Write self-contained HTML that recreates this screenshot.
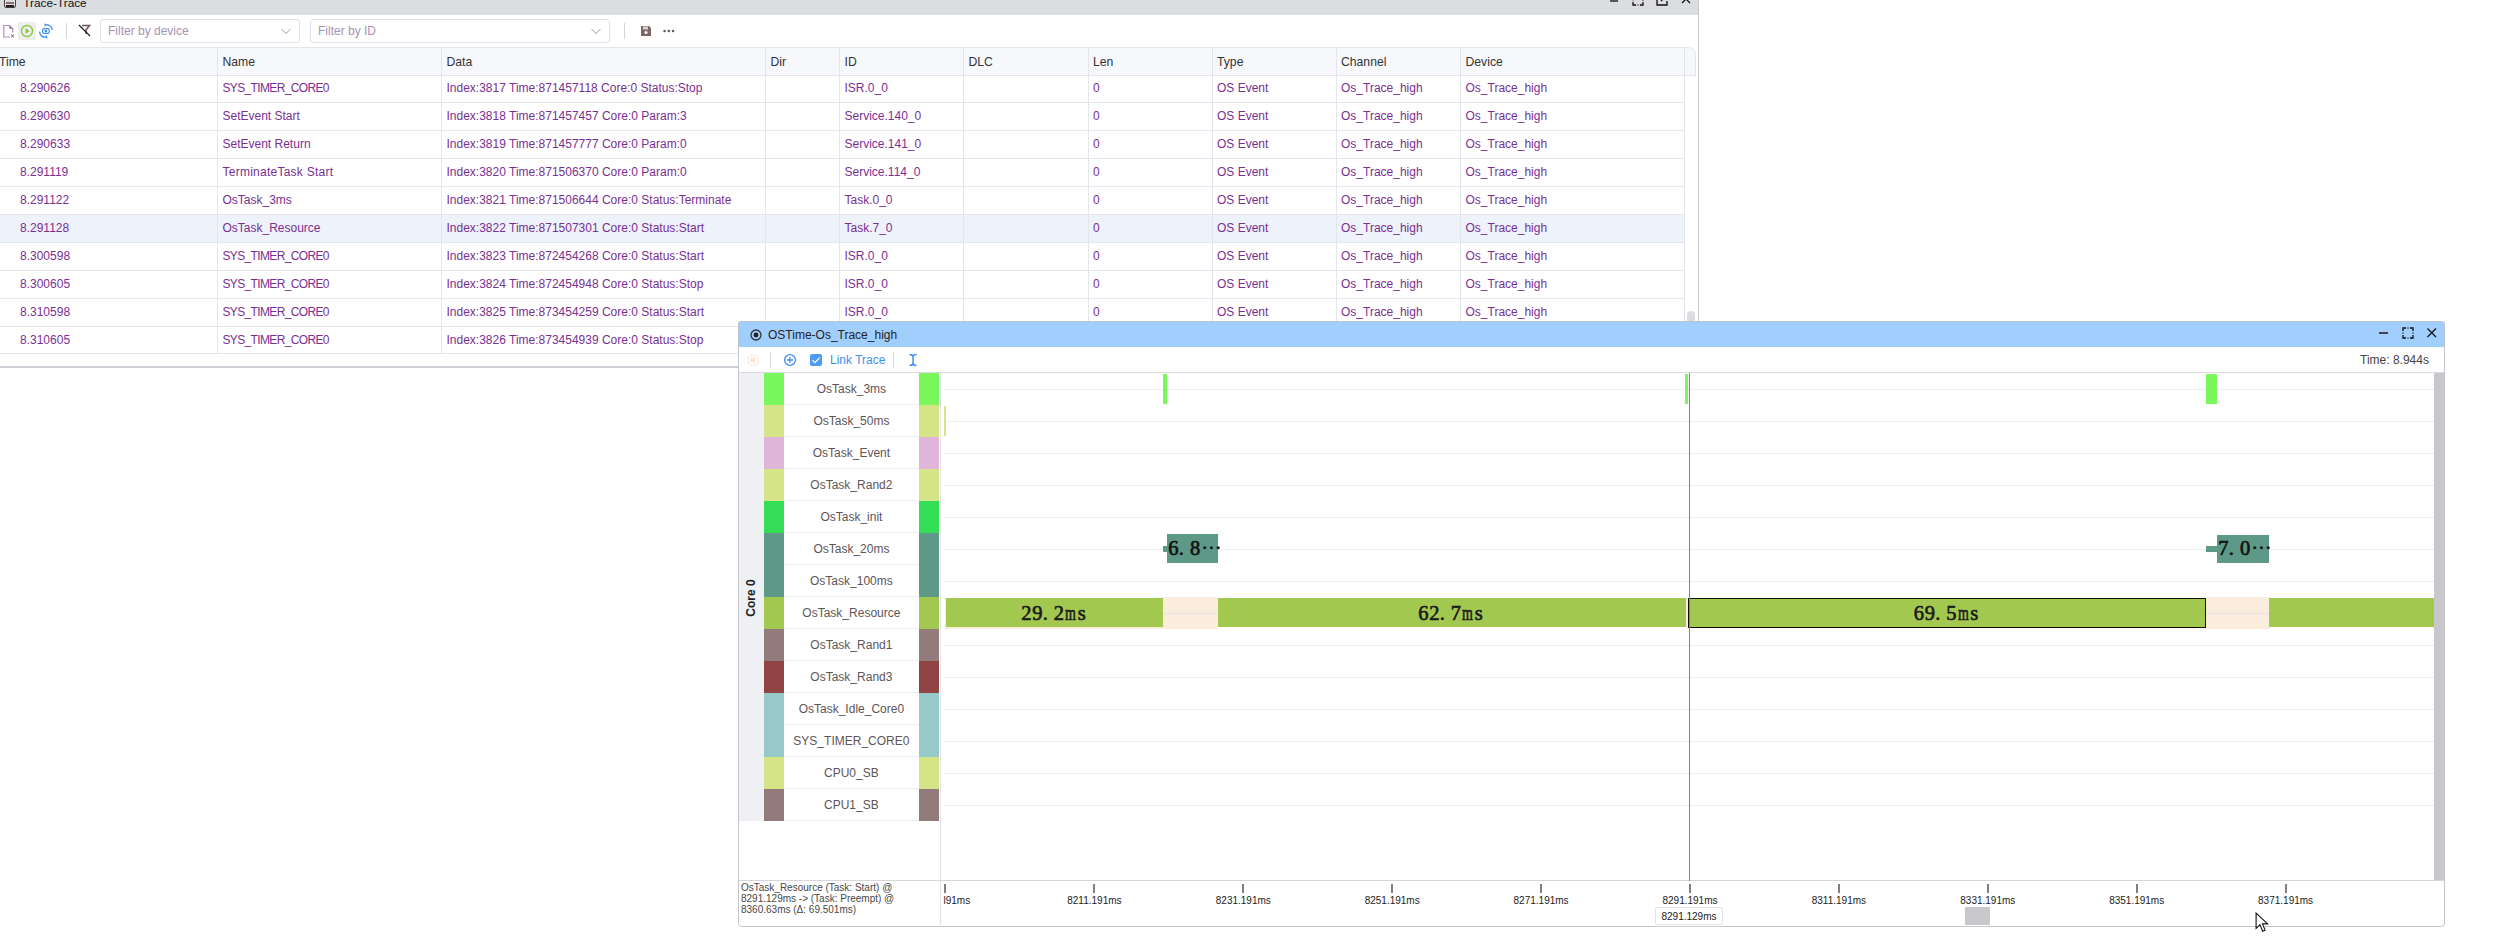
<!DOCTYPE html><html><head><meta charset="utf-8"><style>
*{box-sizing:border-box;margin:0;padding:0}
html,body{width:2502px;height:950px;overflow:hidden;background:#fff}
body{position:relative;font-family:"Liberation Sans",sans-serif;}
.ab{position:absolute}
.t{position:absolute;white-space:nowrap;line-height:1}
</style></head><body>

<div class="ab" style="left:0;top:0;width:1698px;height:14.5px;background:#dcdde1"></div>
<div class="ab" style="left:4px;top:-4px;width:12px;height:11.5px;border:1.6px solid #444;border-radius:2px;background:#dcdde1"></div>
<div class="ab" style="left:6px;top:2px;width:8px;height:1.6px;background:#8a7070"></div>
<div class="ab" style="left:6px;top:5px;width:8px;height:1.6px;background:#222"></div>
<div class="t" style="left:23.3px;top:-2.4px;font-size:11.8px;color:#111">Trace-Trace</div>
<div class="ab" style="left:1610px;top:0;width:8px;height:2px;background:#555"></div>
<svg class="ab" style="left:1631px;top:-7px" width="14" height="14" viewBox="0 0 14 14"><path d="M2 5 V2 H5 M9 2 H12 V5 M12 9 V12 H9 M5 12 H2 V9" fill="none" stroke="#111" stroke-width="1.3"/><path d="M7 12 H7.01 M12 7 V7.01" stroke="#111" stroke-width="1.3" stroke-linecap="round"/><path d="M2 6 V8 M6 2 H8" stroke="#8a7070" stroke-width="1"/></svg>
<svg class="ab" style="left:1655px;top:-7px" width="14" height="14" viewBox="0 0 14 14"><path d="M6 2 H2 V12 H12 V8" fill="none" stroke="#111" stroke-width="1.3"/><path d="M6 8 L11.5 2.5" stroke="#111" stroke-width="1.3"/></svg>
<svg class="ab" style="left:1680px;top:-7px" width="12" height="12" viewBox="0 0 12 12"><path d="M2 2 L10 10 M10 2 L2 10" stroke="#111" stroke-width="1.3"/></svg>
<div class="ab" style="left:1697.5px;top:0;width:1.5px;height:368px;background:#c9c9ce"></div>
<div class="ab" style="left:0;top:366px;width:1699px;height:2px;background:#cfd0d5"></div>
<svg class="ab" style="left:2px;top:24px" width="14" height="15" viewBox="0 0 14 15"><path d="M8 13 H1.8 V1.5 H7.5 L10.8 4.8 V8.5" fill="none" stroke="#b48cc8" stroke-width="1.2"/><path d="M7.5 1.5 L10.8 4.8 H7.5 Z" fill="#8a7070"/><path d="M9.2 10.6 L11.8 13.2 M11.8 10.6 L9.2 13.2" stroke="#6a5050" stroke-width="1"/></svg>
<div class="ab" style="left:18px;top:22px;width:18px;height:18px;background:#eceef2;border-radius:1px"></div>
<svg class="ab" style="left:20px;top:24px" width="14" height="14" viewBox="0 0 14 14"><circle cx="7" cy="7" r="5.5" fill="none" stroke="#8cc83c" stroke-width="1.4"/><path d="M5.5 4.3 L9.6 7 L5.5 9.7 Z" fill="#8cc83c"/></svg>
<svg class="ab" style="left:38px;top:23px" width="16" height="16" viewBox="0 0 16 16"><path d="M8.4 1.6 A6.4 6.4 0 0 1 14.3 7" fill="none" stroke="#3d8ff0" stroke-width="1.3"/><path d="M7.4 14.2 A6.4 6.4 0 0 1 1.5 8.6" fill="none" stroke="#3d8ff0" stroke-width="1.3"/><path d="M6.3 0.3 L9.3 1.7 L6.8 3.6 Z" fill="#3d8ff0"/><path d="M9.5 15.6 L6.5 14.2 L9 12.3 Z" fill="#3d8ff0"/><rect x="4.6" y="5.6" width="6.6" height="4.8" rx="1.6" fill="none" stroke="#3d8ff0" stroke-width="1.2"/><rect x="6.7" y="6.9" width="2.4" height="2.2" fill="#3d8ff0"/></svg>
<div class="ab" style="left:66px;top:23px;width:1px;height:16px;background:#d5d6da"></div>
<svg class="ab" style="left:78px;top:24px" width="14" height="13" viewBox="0 0 14 13"><path d="M4 1.5 H11.5 L8 6 V10" fill="none" stroke="#6e5a5a" stroke-width="1.6"/><path d="M1 1 L12 12" stroke="#222" stroke-width="1.3"/></svg>
<div class="ab" style="left:100px;top:19px;width:200px;height:24px;border:1px solid #dfe1e6;border-radius:3px;background:#fff"></div>
<div class="t" style="left:108px;top:25px;font-size:12px;color:#a592b4">Filter by device</div>
<svg class="ab" style="left:280px;top:26px" width="12" height="10" viewBox="0 0 12 10"><path d="M1.5 3 L6 7.5 L10.5 3" fill="none" stroke="#9a9aa0" stroke-width="1"/></svg>
<div class="ab" style="left:310px;top:19px;width:300px;height:24px;border:1px solid #dfe1e6;border-radius:3px;background:#fff"></div>
<div class="t" style="left:318px;top:25px;font-size:12px;color:#a592b4">Filter by ID</div>
<svg class="ab" style="left:590px;top:26px" width="12" height="10" viewBox="0 0 12 10"><path d="M1.5 3 L6 7.5 L10.5 3" fill="none" stroke="#9a9aa0" stroke-width="1"/></svg>
<div class="ab" style="left:624px;top:23px;width:1px;height:16px;background:#d5d6da"></div>
<svg class="ab" style="left:640px;top:25px" width="12" height="12" viewBox="0 0 12 12"><path d="M1 1 H9 L11 3 V11 H1 Z" fill="#7d6868"/><rect x="3" y="1.5" width="5" height="3" fill="#dcd0d0"/><circle cx="6" cy="7.5" r="1.5" fill="#fff"/></svg>
<svg class="ab" style="left:663px;top:29px" width="12" height="4" viewBox="0 0 12 4"><circle cx="1.6" cy="2" r="1.3" fill="#6a5a5a"/><circle cx="5.8" cy="2" r="1.3" fill="#6a5a5a"/><circle cx="10" cy="2" r="1.3" fill="#6a5a5a"/></svg>
<div class="ab" style="left:-2px;top:47px;width:1698px;height:29px;background:#f7f8fc;border:1px solid #e4e6ed;border-left:none;border-radius:0 8px 0 0"></div>
<div class="ab" style="left:0;top:215px;width:1684px;height:27px;background:#eef2fb"></div>
<div class="ab" style="left:0;top:75px;width:1684px;height:1px;background:#e4e6ed"></div>
<div class="ab" style="left:0;top:102px;width:1684px;height:1px;background:#e4e6ed"></div>
<div class="ab" style="left:0;top:130px;width:1684px;height:1px;background:#e4e6ed"></div>
<div class="ab" style="left:0;top:158px;width:1684px;height:1px;background:#e4e6ed"></div>
<div class="ab" style="left:0;top:186px;width:1684px;height:1px;background:#e4e6ed"></div>
<div class="ab" style="left:0;top:214px;width:1684px;height:1px;background:#e4e6ed"></div>
<div class="ab" style="left:0;top:242px;width:1684px;height:1px;background:#e4e6ed"></div>
<div class="ab" style="left:0;top:270px;width:1684px;height:1px;background:#e4e6ed"></div>
<div class="ab" style="left:0;top:298px;width:1684px;height:1px;background:#e4e6ed"></div>
<div class="ab" style="left:0;top:326px;width:1684px;height:1px;background:#e4e6ed"></div>
<div class="ab" style="left:0;top:353px;width:1684px;height:1px;background:#e4e6ed"></div>
<div class="ab" style="left:217.0px;top:47px;width:1px;height:306px;background:#e4e6ed"></div>
<div class="ab" style="left:441.0px;top:47px;width:1px;height:306px;background:#e4e6ed"></div>
<div class="ab" style="left:765.0px;top:47px;width:1px;height:306px;background:#e4e6ed"></div>
<div class="ab" style="left:839.0px;top:47px;width:1px;height:306px;background:#e4e6ed"></div>
<div class="ab" style="left:963.0px;top:47px;width:1px;height:306px;background:#e4e6ed"></div>
<div class="ab" style="left:1087.5px;top:47px;width:1px;height:306px;background:#e4e6ed"></div>
<div class="ab" style="left:1211.5px;top:47px;width:1px;height:306px;background:#e4e6ed"></div>
<div class="ab" style="left:1335.5px;top:47px;width:1px;height:306px;background:#e4e6ed"></div>
<div class="ab" style="left:1460.0px;top:47px;width:1px;height:306px;background:#e4e6ed"></div>
<div class="ab" style="left:1683.5px;top:47px;width:1px;height:306px;background:#e4e6ed"></div>
<div class="t" style="left:-1px;top:48px;height:28px;line-height:28px;font-size:12.2px;color:#333">Time</div>
<div class="t" style="left:222.5px;top:48px;height:28px;line-height:28px;font-size:12.2px;color:#333">Name</div>
<div class="t" style="left:446.5px;top:48px;height:28px;line-height:28px;font-size:12.2px;color:#333">Data</div>
<div class="t" style="left:770.5px;top:48px;height:28px;line-height:28px;font-size:12.2px;color:#333">Dir</div>
<div class="t" style="left:844.5px;top:48px;height:28px;line-height:28px;font-size:12.2px;color:#333">ID</div>
<div class="t" style="left:968.5px;top:48px;height:28px;line-height:28px;font-size:12.2px;color:#333">DLC</div>
<div class="t" style="left:1093px;top:48px;height:28px;line-height:28px;font-size:12.2px;color:#333">Len</div>
<div class="t" style="left:1217px;top:48px;height:28px;line-height:28px;font-size:12.2px;color:#333">Type</div>
<div class="t" style="left:1341px;top:48px;height:28px;line-height:28px;font-size:12.2px;color:#333">Channel</div>
<div class="t" style="left:1465.5px;top:48px;height:28px;line-height:28px;font-size:12.2px;color:#333">Device</div>
<div class="t" style="left:20px;top:74px;height:28px;line-height:28px;font-size:12px;letter-spacing:0;color:#7a2f92">8.290626</div>
<div class="t" style="left:222.5px;top:74px;height:28px;line-height:28px;font-size:12px;letter-spacing:-0.65px;color:#7a2f92">SYS_TIMER_CORE0</div>
<div class="t" style="left:446.5px;top:74px;height:28px;line-height:28px;font-size:12px;letter-spacing:0;color:#7a2f92">Index:3817 Time:871457118 Core:0 Status:Stop</div>
<div class="t" style="left:844.5px;top:74px;height:28px;line-height:28px;font-size:12px;letter-spacing:0;color:#7a2f92">ISR.0_0</div>
<div class="t" style="left:1093px;top:74px;height:28px;line-height:28px;font-size:12px;letter-spacing:0;color:#7a2f92">0</div>
<div class="t" style="left:1217px;top:74px;height:28px;line-height:28px;font-size:12px;letter-spacing:0;color:#7a2f92">OS Event</div>
<div class="t" style="left:1341px;top:74px;height:28px;line-height:28px;font-size:12px;letter-spacing:0;color:#7a2f92">Os_Trace_high</div>
<div class="t" style="left:1465.5px;top:74px;height:28px;line-height:28px;font-size:12px;letter-spacing:0;color:#7a2f92">Os_Trace_high</div>
<div class="t" style="left:20px;top:102px;height:28px;line-height:28px;font-size:12px;letter-spacing:0;color:#7a2f92">8.290630</div>
<div class="t" style="left:222.5px;top:102px;height:28px;line-height:28px;font-size:12px;letter-spacing:0;color:#7a2f92">SetEvent Start</div>
<div class="t" style="left:446.5px;top:102px;height:28px;line-height:28px;font-size:12px;letter-spacing:0;color:#7a2f92">Index:3818 Time:871457457 Core:0 Param:3</div>
<div class="t" style="left:844.5px;top:102px;height:28px;line-height:28px;font-size:12px;letter-spacing:0;color:#7a2f92">Service.140_0</div>
<div class="t" style="left:1093px;top:102px;height:28px;line-height:28px;font-size:12px;letter-spacing:0;color:#7a2f92">0</div>
<div class="t" style="left:1217px;top:102px;height:28px;line-height:28px;font-size:12px;letter-spacing:0;color:#7a2f92">OS Event</div>
<div class="t" style="left:1341px;top:102px;height:28px;line-height:28px;font-size:12px;letter-spacing:0;color:#7a2f92">Os_Trace_high</div>
<div class="t" style="left:1465.5px;top:102px;height:28px;line-height:28px;font-size:12px;letter-spacing:0;color:#7a2f92">Os_Trace_high</div>
<div class="t" style="left:20px;top:130px;height:28px;line-height:28px;font-size:12px;letter-spacing:0;color:#7a2f92">8.290633</div>
<div class="t" style="left:222.5px;top:130px;height:28px;line-height:28px;font-size:12px;letter-spacing:0;color:#7a2f92">SetEvent Return</div>
<div class="t" style="left:446.5px;top:130px;height:28px;line-height:28px;font-size:12px;letter-spacing:0;color:#7a2f92">Index:3819 Time:871457777 Core:0 Param:0</div>
<div class="t" style="left:844.5px;top:130px;height:28px;line-height:28px;font-size:12px;letter-spacing:0;color:#7a2f92">Service.141_0</div>
<div class="t" style="left:1093px;top:130px;height:28px;line-height:28px;font-size:12px;letter-spacing:0;color:#7a2f92">0</div>
<div class="t" style="left:1217px;top:130px;height:28px;line-height:28px;font-size:12px;letter-spacing:0;color:#7a2f92">OS Event</div>
<div class="t" style="left:1341px;top:130px;height:28px;line-height:28px;font-size:12px;letter-spacing:0;color:#7a2f92">Os_Trace_high</div>
<div class="t" style="left:1465.5px;top:130px;height:28px;line-height:28px;font-size:12px;letter-spacing:0;color:#7a2f92">Os_Trace_high</div>
<div class="t" style="left:20px;top:158px;height:28px;line-height:28px;font-size:12px;letter-spacing:0;color:#7a2f92">8.291119</div>
<div class="t" style="left:222.5px;top:158px;height:28px;line-height:28px;font-size:12px;letter-spacing:0.25px;color:#7a2f92">TerminateTask Start</div>
<div class="t" style="left:446.5px;top:158px;height:28px;line-height:28px;font-size:12px;letter-spacing:0;color:#7a2f92">Index:3820 Time:871506370 Core:0 Param:0</div>
<div class="t" style="left:844.5px;top:158px;height:28px;line-height:28px;font-size:12px;letter-spacing:0;color:#7a2f92">Service.114_0</div>
<div class="t" style="left:1093px;top:158px;height:28px;line-height:28px;font-size:12px;letter-spacing:0;color:#7a2f92">0</div>
<div class="t" style="left:1217px;top:158px;height:28px;line-height:28px;font-size:12px;letter-spacing:0;color:#7a2f92">OS Event</div>
<div class="t" style="left:1341px;top:158px;height:28px;line-height:28px;font-size:12px;letter-spacing:0;color:#7a2f92">Os_Trace_high</div>
<div class="t" style="left:1465.5px;top:158px;height:28px;line-height:28px;font-size:12px;letter-spacing:0;color:#7a2f92">Os_Trace_high</div>
<div class="t" style="left:20px;top:186px;height:28px;line-height:28px;font-size:12px;letter-spacing:0;color:#7a2f92">8.291122</div>
<div class="t" style="left:222.5px;top:186px;height:28px;line-height:28px;font-size:12px;letter-spacing:0;color:#7a2f92">OsTask_3ms</div>
<div class="t" style="left:446.5px;top:186px;height:28px;line-height:28px;font-size:12px;letter-spacing:0;color:#7a2f92">Index:3821 Time:871506644 Core:0 Status:Terminate</div>
<div class="t" style="left:844.5px;top:186px;height:28px;line-height:28px;font-size:12px;letter-spacing:0;color:#7a2f92">Task.0_0</div>
<div class="t" style="left:1093px;top:186px;height:28px;line-height:28px;font-size:12px;letter-spacing:0;color:#7a2f92">0</div>
<div class="t" style="left:1217px;top:186px;height:28px;line-height:28px;font-size:12px;letter-spacing:0;color:#7a2f92">OS Event</div>
<div class="t" style="left:1341px;top:186px;height:28px;line-height:28px;font-size:12px;letter-spacing:0;color:#7a2f92">Os_Trace_high</div>
<div class="t" style="left:1465.5px;top:186px;height:28px;line-height:28px;font-size:12px;letter-spacing:0;color:#7a2f92">Os_Trace_high</div>
<div class="t" style="left:20px;top:214px;height:28px;line-height:28px;font-size:12px;letter-spacing:0;color:#7a2f92">8.291128</div>
<div class="t" style="left:222.5px;top:214px;height:28px;line-height:28px;font-size:12px;letter-spacing:0;color:#7a2f92">OsTask_Resource</div>
<div class="t" style="left:446.5px;top:214px;height:28px;line-height:28px;font-size:12px;letter-spacing:0;color:#7a2f92">Index:3822 Time:871507301 Core:0 Status:Start</div>
<div class="t" style="left:844.5px;top:214px;height:28px;line-height:28px;font-size:12px;letter-spacing:0;color:#7a2f92">Task.7_0</div>
<div class="t" style="left:1093px;top:214px;height:28px;line-height:28px;font-size:12px;letter-spacing:0;color:#7a2f92">0</div>
<div class="t" style="left:1217px;top:214px;height:28px;line-height:28px;font-size:12px;letter-spacing:0;color:#7a2f92">OS Event</div>
<div class="t" style="left:1341px;top:214px;height:28px;line-height:28px;font-size:12px;letter-spacing:0;color:#7a2f92">Os_Trace_high</div>
<div class="t" style="left:1465.5px;top:214px;height:28px;line-height:28px;font-size:12px;letter-spacing:0;color:#7a2f92">Os_Trace_high</div>
<div class="t" style="left:20px;top:242px;height:28px;line-height:28px;font-size:12px;letter-spacing:0;color:#7a2f92">8.300598</div>
<div class="t" style="left:222.5px;top:242px;height:28px;line-height:28px;font-size:12px;letter-spacing:-0.65px;color:#7a2f92">SYS_TIMER_CORE0</div>
<div class="t" style="left:446.5px;top:242px;height:28px;line-height:28px;font-size:12px;letter-spacing:0;color:#7a2f92">Index:3823 Time:872454268 Core:0 Status:Start</div>
<div class="t" style="left:844.5px;top:242px;height:28px;line-height:28px;font-size:12px;letter-spacing:0;color:#7a2f92">ISR.0_0</div>
<div class="t" style="left:1093px;top:242px;height:28px;line-height:28px;font-size:12px;letter-spacing:0;color:#7a2f92">0</div>
<div class="t" style="left:1217px;top:242px;height:28px;line-height:28px;font-size:12px;letter-spacing:0;color:#7a2f92">OS Event</div>
<div class="t" style="left:1341px;top:242px;height:28px;line-height:28px;font-size:12px;letter-spacing:0;color:#7a2f92">Os_Trace_high</div>
<div class="t" style="left:1465.5px;top:242px;height:28px;line-height:28px;font-size:12px;letter-spacing:0;color:#7a2f92">Os_Trace_high</div>
<div class="t" style="left:20px;top:270px;height:28px;line-height:28px;font-size:12px;letter-spacing:0;color:#7a2f92">8.300605</div>
<div class="t" style="left:222.5px;top:270px;height:28px;line-height:28px;font-size:12px;letter-spacing:-0.65px;color:#7a2f92">SYS_TIMER_CORE0</div>
<div class="t" style="left:446.5px;top:270px;height:28px;line-height:28px;font-size:12px;letter-spacing:0;color:#7a2f92">Index:3824 Time:872454948 Core:0 Status:Stop</div>
<div class="t" style="left:844.5px;top:270px;height:28px;line-height:28px;font-size:12px;letter-spacing:0;color:#7a2f92">ISR.0_0</div>
<div class="t" style="left:1093px;top:270px;height:28px;line-height:28px;font-size:12px;letter-spacing:0;color:#7a2f92">0</div>
<div class="t" style="left:1217px;top:270px;height:28px;line-height:28px;font-size:12px;letter-spacing:0;color:#7a2f92">OS Event</div>
<div class="t" style="left:1341px;top:270px;height:28px;line-height:28px;font-size:12px;letter-spacing:0;color:#7a2f92">Os_Trace_high</div>
<div class="t" style="left:1465.5px;top:270px;height:28px;line-height:28px;font-size:12px;letter-spacing:0;color:#7a2f92">Os_Trace_high</div>
<div class="t" style="left:20px;top:298px;height:28px;line-height:28px;font-size:12px;letter-spacing:0;color:#7a2f92">8.310598</div>
<div class="t" style="left:222.5px;top:298px;height:28px;line-height:28px;font-size:12px;letter-spacing:-0.65px;color:#7a2f92">SYS_TIMER_CORE0</div>
<div class="t" style="left:446.5px;top:298px;height:28px;line-height:28px;font-size:12px;letter-spacing:0;color:#7a2f92">Index:3825 Time:873454259 Core:0 Status:Start</div>
<div class="t" style="left:844.5px;top:298px;height:28px;line-height:28px;font-size:12px;letter-spacing:0;color:#7a2f92">ISR.0_0</div>
<div class="t" style="left:1093px;top:298px;height:28px;line-height:28px;font-size:12px;letter-spacing:0;color:#7a2f92">0</div>
<div class="t" style="left:1217px;top:298px;height:28px;line-height:28px;font-size:12px;letter-spacing:0;color:#7a2f92">OS Event</div>
<div class="t" style="left:1341px;top:298px;height:28px;line-height:28px;font-size:12px;letter-spacing:0;color:#7a2f92">Os_Trace_high</div>
<div class="t" style="left:1465.5px;top:298px;height:28px;line-height:28px;font-size:12px;letter-spacing:0;color:#7a2f92">Os_Trace_high</div>
<div class="t" style="left:20px;top:326px;height:28px;line-height:28px;font-size:12px;letter-spacing:0;color:#7a2f92">8.310605</div>
<div class="t" style="left:222.5px;top:326px;height:28px;line-height:28px;font-size:12px;letter-spacing:-0.65px;color:#7a2f92">SYS_TIMER_CORE0</div>
<div class="t" style="left:446.5px;top:326px;height:28px;line-height:28px;font-size:12px;letter-spacing:0;color:#7a2f92">Index:3826 Time:873454939 Core:0 Status:Stop</div>
<div class="t" style="left:844.5px;top:326px;height:28px;line-height:28px;font-size:12px;letter-spacing:0;color:#7a2f92">ISR.0_0</div>
<div class="t" style="left:1093px;top:326px;height:28px;line-height:28px;font-size:12px;letter-spacing:0;color:#7a2f92">0</div>
<div class="t" style="left:1217px;top:326px;height:28px;line-height:28px;font-size:12px;letter-spacing:0;color:#7a2f92">OS Event</div>
<div class="t" style="left:1341px;top:326px;height:28px;line-height:28px;font-size:12px;letter-spacing:0;color:#7a2f92">Os_Trace_high</div>
<div class="t" style="left:1465.5px;top:326px;height:28px;line-height:28px;font-size:12px;letter-spacing:0;color:#7a2f92">Os_Trace_high</div>
<div class="ab" style="left:1687px;top:311px;width:8px;height:14px;background:#dcdde0;border-radius:4px 4px 0 0"></div>
<div class="ab" style="left:738px;top:321px;width:1707px;height:606px;background:#fff;border:1px solid #c6c6cc;border-radius:4px;overflow:hidden"></div>
<div class="ab" style="left:738px;top:321px;width:1707px;height:26px;background:#a0cffe;border-radius:4px 4px 0 0;border:1px solid #b9c3cc;border-bottom:none"></div>
<svg class="ab" style="left:749px;top:328px" width="14" height="14" viewBox="0 0 14 14"><circle cx="7" cy="7" r="5" fill="none" stroke="#333" stroke-width="1.3"/><circle cx="7" cy="7" r="2.4" fill="#222"/></svg>
<div class="t" style="left:768px;top:328.5px;font-size:12px;color:#262222">OSTime-Os_Trace_high</div>
<div class="ab" style="left:2379px;top:332px;width:9px;height:1.8px;background:#444"></div>
<svg class="ab" style="left:2401px;top:326px" width="14" height="14" viewBox="0 0 14 14"><path d="M2 5 V2 H5 M9 2 H12 V5 M12 9 V12 H9 M5 12 H2 V9" fill="none" stroke="#111" stroke-width="1.3"/><path d="M7 2 H7.01 M12 7 V7.01 M7 12 H7.01 M2 7 V7.01" stroke="#111" stroke-width="1.3" stroke-linecap="round"/></svg>
<svg class="ab" style="left:2426px;top:327px" width="12" height="12" viewBox="0 0 12 12"><path d="M1.5 1.5 L10 10 M10 1.5 L1.5 10" stroke="#111" stroke-width="1.2"/></svg>
<div class="ab" style="left:739px;top:372px;width:1705px;height:1px;background:#d9dae0"></div>
<svg class="ab" style="left:746px;top:353px" width="14" height="14" viewBox="0 0 14 14"><circle cx="7" cy="7" r="5.3" fill="none" stroke="#f7e3cf" stroke-width="1.3" stroke-dasharray="2 1"/><rect x="4.6" y="4.6" width="4.8" height="4.8" fill="#f8e6d4"/></svg>
<div class="ab" style="left:770px;top:352px;width:1px;height:16px;background:#d8d8dc"></div>
<svg class="ab" style="left:783px;top:353px" width="14" height="14" viewBox="0 0 14 14"><circle cx="7" cy="7" r="5.4" fill="none" stroke="#3a8ef0" stroke-width="1.3"/><path d="M7 4 V10 M4 7 H10" stroke="#3a8ef0" stroke-width="1.3"/></svg>
<div class="ab" style="left:810px;top:354px;width:12px;height:12px;background:#4a9cf5;border-radius:2px"></div>
<svg class="ab" style="left:810px;top:354px" width="12" height="12" viewBox="0 0 12 12"><path d="M2.5 6.2 L5 8.6 L9.6 3.6" fill="none" stroke="#fff" stroke-width="1.3"/></svg>
<div class="t" style="left:830px;top:353.5px;font-size:12px;color:#3c8ff0">Link Trace</div>
<div class="ab" style="left:893px;top:352px;width:1px;height:16px;background:#d8d8dc"></div>
<svg class="ab" style="left:908px;top:353px" width="10" height="14" viewBox="0 0 10 14"><path d="M1.5 1.5 Q5 1.5 5 4 Q5 1.5 8.5 1.5 M1.5 12.5 Q5 12.5 5 10 Q5 12.5 8.5 12.5 M5 4 V10" fill="none" stroke="#3a8ef0" stroke-width="1.4"/></svg>
<div class="t" style="left:2360px;top:354px;font-size:12px;color:#444">Time: 8.944s</div>
<div class="ab" style="left:739px;top:372.8px;width:24.8px;height:448px;background:#eef0f4"></div>
<div class="t" style="left:731px;top:591.5px;width:40px;text-align:center;font-size:12px;font-weight:bold;color:#222;transform:rotate(-90deg)">Core 0</div>
<div class="ab" style="left:763.8px;top:372.8px;width:20.1px;height:32px;background:#7af75c"></div>
<div class="ab" style="left:918.9px;top:372.8px;width:20px;height:32px;background:#7af75c"></div>
<div class="ab" style="left:783.9px;top:404.3px;width:135px;height:1px;background:#ecedf2"></div>
<div class="t" style="left:783.9px;top:372.8px;width:135px;height:32px;line-height:32px;text-align:center;font-size:12px;color:#5e5557">OsTask_3ms</div>
<div class="ab" style="left:763.8px;top:404.8px;width:20.1px;height:32px;background:#d6e488"></div>
<div class="ab" style="left:918.9px;top:404.8px;width:20px;height:32px;background:#d6e488"></div>
<div class="ab" style="left:783.9px;top:436.3px;width:135px;height:1px;background:#ecedf2"></div>
<div class="t" style="left:783.9px;top:404.8px;width:135px;height:32px;line-height:32px;text-align:center;font-size:12px;color:#5e5557">OsTask_50ms</div>
<div class="ab" style="left:763.8px;top:436.8px;width:20.1px;height:32px;background:#dfb6d9"></div>
<div class="ab" style="left:918.9px;top:436.8px;width:20px;height:32px;background:#dfb6d9"></div>
<div class="ab" style="left:783.9px;top:468.3px;width:135px;height:1px;background:#ecedf2"></div>
<div class="t" style="left:783.9px;top:436.8px;width:135px;height:32px;line-height:32px;text-align:center;font-size:12px;color:#5e5557">OsTask_Event</div>
<div class="ab" style="left:763.8px;top:468.8px;width:20.1px;height:32px;background:#d6e488"></div>
<div class="ab" style="left:918.9px;top:468.8px;width:20px;height:32px;background:#d6e488"></div>
<div class="ab" style="left:783.9px;top:500.3px;width:135px;height:1px;background:#ecedf2"></div>
<div class="t" style="left:783.9px;top:468.8px;width:135px;height:32px;line-height:32px;text-align:center;font-size:12px;color:#5e5557">OsTask_Rand2</div>
<div class="ab" style="left:763.8px;top:500.8px;width:20.1px;height:32px;background:#33dd55"></div>
<div class="ab" style="left:918.9px;top:500.8px;width:20px;height:32px;background:#33dd55"></div>
<div class="ab" style="left:783.9px;top:532.3px;width:135px;height:1px;background:#ecedf2"></div>
<div class="t" style="left:783.9px;top:500.8px;width:135px;height:32px;line-height:32px;text-align:center;font-size:12px;color:#5e5557">OsTask_init</div>
<div class="ab" style="left:763.8px;top:532.8px;width:20.1px;height:32px;background:#5e9987"></div>
<div class="ab" style="left:918.9px;top:532.8px;width:20px;height:32px;background:#5e9987"></div>
<div class="ab" style="left:783.9px;top:564.3px;width:135px;height:1px;background:#ecedf2"></div>
<div class="t" style="left:783.9px;top:532.8px;width:135px;height:32px;line-height:32px;text-align:center;font-size:12px;color:#5e5557">OsTask_20ms</div>
<div class="ab" style="left:763.8px;top:564.8px;width:20.1px;height:32px;background:#5e9987"></div>
<div class="ab" style="left:918.9px;top:564.8px;width:20px;height:32px;background:#5e9987"></div>
<div class="ab" style="left:783.9px;top:596.3px;width:135px;height:1px;background:#ecedf2"></div>
<div class="t" style="left:783.9px;top:564.8px;width:135px;height:32px;line-height:32px;text-align:center;font-size:12px;color:#5e5557">OsTask_100ms</div>
<div class="ab" style="left:763.8px;top:596.8px;width:20.1px;height:32px;background:#a3c850"></div>
<div class="ab" style="left:918.9px;top:596.8px;width:20px;height:32px;background:#a3c850"></div>
<div class="ab" style="left:783.9px;top:628.3px;width:135px;height:1px;background:#ecedf2"></div>
<div class="t" style="left:783.9px;top:596.8px;width:135px;height:32px;line-height:32px;text-align:center;font-size:12px;color:#5e5557">OsTask_Resource</div>
<div class="ab" style="left:763.8px;top:628.8px;width:20.1px;height:32px;background:#937b7b"></div>
<div class="ab" style="left:918.9px;top:628.8px;width:20px;height:32px;background:#937b7b"></div>
<div class="ab" style="left:783.9px;top:660.3px;width:135px;height:1px;background:#ecedf2"></div>
<div class="t" style="left:783.9px;top:628.8px;width:135px;height:32px;line-height:32px;text-align:center;font-size:12px;color:#5e5557">OsTask_Rand1</div>
<div class="ab" style="left:763.8px;top:660.8px;width:20.1px;height:32px;background:#8f4443"></div>
<div class="ab" style="left:918.9px;top:660.8px;width:20px;height:32px;background:#8f4443"></div>
<div class="ab" style="left:783.9px;top:692.3px;width:135px;height:1px;background:#ecedf2"></div>
<div class="t" style="left:783.9px;top:660.8px;width:135px;height:32px;line-height:32px;text-align:center;font-size:12px;color:#5e5557">OsTask_Rand3</div>
<div class="ab" style="left:763.8px;top:692.8px;width:20.1px;height:32px;background:#98c9c9"></div>
<div class="ab" style="left:918.9px;top:692.8px;width:20px;height:32px;background:#98c9c9"></div>
<div class="ab" style="left:783.9px;top:724.3px;width:135px;height:1px;background:#ecedf2"></div>
<div class="t" style="left:783.9px;top:692.8px;width:135px;height:32px;line-height:32px;text-align:center;font-size:12px;color:#5e5557">OsTask_Idle_Core0</div>
<div class="ab" style="left:763.8px;top:724.8px;width:20.1px;height:32px;background:#98c9c9"></div>
<div class="ab" style="left:918.9px;top:724.8px;width:20px;height:32px;background:#98c9c9"></div>
<div class="ab" style="left:783.9px;top:756.3px;width:135px;height:1px;background:#ecedf2"></div>
<div class="t" style="left:783.9px;top:724.8px;width:135px;height:32px;line-height:32px;text-align:center;font-size:12px;color:#5e5557">SYS_TIMER_CORE0</div>
<div class="ab" style="left:763.8px;top:756.8px;width:20.1px;height:32px;background:#d6e488"></div>
<div class="ab" style="left:918.9px;top:756.8px;width:20px;height:32px;background:#d6e488"></div>
<div class="ab" style="left:783.9px;top:788.3px;width:135px;height:1px;background:#ecedf2"></div>
<div class="t" style="left:783.9px;top:756.8px;width:135px;height:32px;line-height:32px;text-align:center;font-size:12px;color:#5e5557">CPU0_SB</div>
<div class="ab" style="left:763.8px;top:788.8px;width:20.1px;height:32px;background:#937b7b"></div>
<div class="ab" style="left:918.9px;top:788.8px;width:20px;height:32px;background:#937b7b"></div>
<div class="ab" style="left:783.9px;top:820.3px;width:135px;height:1px;background:#ecedf2"></div>
<div class="t" style="left:783.9px;top:788.8px;width:135px;height:32px;line-height:32px;text-align:center;font-size:12px;color:#5e5557">CPU1_SB</div>
<div class="ab" style="left:940px;top:372.5px;width:1px;height:554px;background:#e2e3e8"></div>
<div class="ab" style="left:944px;top:389.3px;width:1490px;height:1px;background:#eceef3"></div>
<div class="ab" style="left:944px;top:421.3px;width:1490px;height:1px;background:#eceef3"></div>
<div class="ab" style="left:944px;top:453.3px;width:1490px;height:1px;background:#eceef3"></div>
<div class="ab" style="left:944px;top:485.3px;width:1490px;height:1px;background:#eceef3"></div>
<div class="ab" style="left:944px;top:517.3px;width:1490px;height:1px;background:#eceef3"></div>
<div class="ab" style="left:944px;top:549.3px;width:1490px;height:1px;background:#eceef3"></div>
<div class="ab" style="left:944px;top:581.3px;width:1490px;height:1px;background:#eceef3"></div>
<div class="ab" style="left:944px;top:613.3px;width:1490px;height:1px;background:#eceef3"></div>
<div class="ab" style="left:944px;top:645.3px;width:1490px;height:1px;background:#eceef3"></div>
<div class="ab" style="left:944px;top:677.3px;width:1490px;height:1px;background:#eceef3"></div>
<div class="ab" style="left:944px;top:709.3px;width:1490px;height:1px;background:#eceef3"></div>
<div class="ab" style="left:944px;top:741.3px;width:1490px;height:1px;background:#eceef3"></div>
<div class="ab" style="left:944px;top:773.3px;width:1490px;height:1px;background:#eceef3"></div>
<div class="ab" style="left:944px;top:805.3px;width:1490px;height:1px;background:#eceef3"></div>
<div class="ab" style="left:2434px;top:372.5px;width:10.5px;height:508px;background:#c8c7cc"></div>
<div class="ab" style="left:739px;top:880.3px;width:1705px;height:1px;background:#d6d7dc"></div>
<div class="ab" style="left:1163px;top:374px;width:4px;height:29.5px;background:#7af75c;"></div>
<div class="ab" style="left:1685.3px;top:374px;width:2.5px;height:29.5px;background:#7af75c;"></div>
<div class="ab" style="left:2206px;top:374px;width:11.199999999999818px;height:29.5px;background:#7af75c;"></div>
<div class="ab" style="left:944px;top:406px;width:2px;height:30px;background:#d6e488;"></div>
<div class="ab" style="left:1163px;top:546px;width:4px;height:6px;background:#5e9987;"></div>
<div class="ab" style="left:1167px;top:534.4px;width:51px;height:29.100000000000023px;background:#5e9987;"></div>
<div class="ab" style="left:2206px;top:546px;width:11px;height:6px;background:#5e9987;"></div>
<div class="ab" style="left:2217px;top:534.5px;width:52px;height:28.899999999999977px;background:#5e9987;"></div>
<div class="ab" style="left:944.5px;top:597.5px;width:218.5px;height:31.0px;background:#fbeddc;"></div>
<div class="ab" style="left:946px;top:598.4px;width:217px;height:28.899999999999977px;background:#a3c850;"></div>
<div class="ab" style="left:1163px;top:597px;width:55px;height:32px;background:#fbeddc;"></div>
<div class="ab" style="left:1163px;top:613px;width:55px;height:1px;background:#e3e4ea"></div>
<div class="ab" style="left:1218px;top:598.4px;width:467.5px;height:28.899999999999977px;background:#a3c850;"></div>
<div class="ab" style="left:1685.5px;top:597px;width:2.5px;height:32px;background:#fbeddc;"></div>
<div class="ab" style="left:1688px;top:597.9px;width:518px;height:29.899999999999977px;background:#a3c850;border:1.3px solid #111"></div>
<div class="ab" style="left:2206px;top:597px;width:63px;height:32px;background:#fbeddc;"></div>
<div class="ab" style="left:2206px;top:613px;width:63px;height:1px;background:#e3e4ea"></div>
<div class="ab" style="left:2269px;top:598.4px;width:165px;height:28.899999999999977px;background:#a3c850;"></div>
<div class="t" style="left:1021px;top:602px;height:22px;line-height:22px;font-family:'Liberation Serif',serif;font-weight:normal;-webkit-text-stroke:0.65px #1a1a1a;font-size:20.5px;color:#1a1a1a"><span style="display:inline-block;width:10.85px;text-align:center">2</span><span style="display:inline-block;width:10.85px;text-align:center">9</span><span style="display:inline-block;width:10.85px;text-align:left">.</span><span style="display:inline-block;width:10.85px;text-align:center">2</span><span style="display:inline-block;width:10.85px;text-align:center"><span style="display:inline-block;transform:translateX(-1.5px) scaleX(0.68)">m</span></span><span style="display:inline-block;width:10.85px;text-align:center"><span style="display:inline-block;transform:translateX(1px)">s</span></span></div>
<div class="t" style="left:1418px;top:602px;height:22px;line-height:22px;font-family:'Liberation Serif',serif;font-weight:normal;-webkit-text-stroke:0.65px #1a1a1a;font-size:20.5px;color:#1a1a1a"><span style="display:inline-block;width:10.85px;text-align:center">6</span><span style="display:inline-block;width:10.85px;text-align:center">2</span><span style="display:inline-block;width:10.85px;text-align:left">.</span><span style="display:inline-block;width:10.85px;text-align:center">7</span><span style="display:inline-block;width:10.85px;text-align:center"><span style="display:inline-block;transform:translateX(-1.5px) scaleX(0.68)">m</span></span><span style="display:inline-block;width:10.85px;text-align:center"><span style="display:inline-block;transform:translateX(1px)">s</span></span></div>
<div class="t" style="left:1913.5px;top:602px;height:22px;line-height:22px;font-family:'Liberation Serif',serif;font-weight:normal;-webkit-text-stroke:0.65px #1a1a1a;font-size:20.5px;color:#1a1a1a"><span style="display:inline-block;width:10.85px;text-align:center">6</span><span style="display:inline-block;width:10.85px;text-align:center">9</span><span style="display:inline-block;width:10.85px;text-align:left">.</span><span style="display:inline-block;width:10.85px;text-align:center">5</span><span style="display:inline-block;width:10.85px;text-align:center"><span style="display:inline-block;transform:translateX(-1.5px) scaleX(0.68)">m</span></span><span style="display:inline-block;width:10.85px;text-align:center"><span style="display:inline-block;transform:translateX(1px)">s</span></span></div>
<div class="t" style="left:1168px;top:537px;height:22px;line-height:22px;font-family:'Liberation Serif',serif;font-weight:normal;-webkit-text-stroke:0.65px #111;font-size:20.5px;color:#111"><span style="display:inline-block;width:10.85px;text-align:center">6</span><span style="display:inline-block;width:10.85px;text-align:left">.</span><span style="display:inline-block;width:10.85px;text-align:center">8</span><span style="display:inline-block;width:21.7px;text-align:center"><span style="display:inline-block;transform:translateY(0)">···</span></span></div>
<div class="t" style="left:2218px;top:537px;height:22px;line-height:22px;font-family:'Liberation Serif',serif;font-weight:normal;-webkit-text-stroke:0.65px #111;font-size:20.5px;color:#111"><span style="display:inline-block;width:10.85px;text-align:center">7</span><span style="display:inline-block;width:10.85px;text-align:left">.</span><span style="display:inline-block;width:10.85px;text-align:center">0</span><span style="display:inline-block;width:21.7px;text-align:center"><span style="display:inline-block;transform:translateY(0)">···</span></span></div>
<div class="ab" style="left:1688.9px;top:373px;width:1.2px;height:508px;background:#3d8ff0"></div>
<div class="ab" style="left:944px;top:884px;width:2px;height:9px;background:#8f7a7a"></div>
<div class="t" style="left:943.5px;top:896px;font-size:10px;color:#222">l91ms</div>
<div class="ab" style="left:1093px;top:884px;width:2px;height:9px;background:#8f7a7a"></div>
<div class="t" style="left:1064.4px;top:896px;width:60px;text-align:center;font-size:10px;color:#222">8211.191ms</div>
<div class="ab" style="left:1242px;top:884px;width:2px;height:9px;background:#8f7a7a"></div>
<div class="t" style="left:1213.3px;top:896px;width:60px;text-align:center;font-size:10px;color:#222">8231.191ms</div>
<div class="ab" style="left:1391px;top:884px;width:2px;height:9px;background:#8f7a7a"></div>
<div class="t" style="left:1362.2px;top:896px;width:60px;text-align:center;font-size:10px;color:#222">8251.191ms</div>
<div class="ab" style="left:1540px;top:884px;width:2px;height:9px;background:#8f7a7a"></div>
<div class="t" style="left:1511.1px;top:896px;width:60px;text-align:center;font-size:10px;color:#222">8271.191ms</div>
<div class="ab" style="left:1689px;top:884px;width:2px;height:9px;background:#8f7a7a"></div>
<div class="t" style="left:1660.0px;top:896px;width:60px;text-align:center;font-size:10px;color:#222">8291.191ms</div>
<div class="ab" style="left:1838px;top:884px;width:2px;height:9px;background:#8f7a7a"></div>
<div class="t" style="left:1808.9px;top:896px;width:60px;text-align:center;font-size:10px;color:#222">8311.191ms</div>
<div class="ab" style="left:1987px;top:884px;width:2px;height:9px;background:#8f7a7a"></div>
<div class="t" style="left:1957.8px;top:896px;width:60px;text-align:center;font-size:10px;color:#222">8331.191ms</div>
<div class="ab" style="left:2136px;top:884px;width:2px;height:9px;background:#8f7a7a"></div>
<div class="t" style="left:2106.7px;top:896px;width:60px;text-align:center;font-size:10px;color:#222">8351.191ms</div>
<div class="ab" style="left:2285px;top:884px;width:2px;height:9px;background:#8f7a7a"></div>
<div class="t" style="left:2255.6000000000004px;top:896px;width:60px;text-align:center;font-size:10px;color:#222">8371.191ms</div>
<div class="ab" style="left:1655px;top:907px;width:68px;height:18px;border:1px solid #e3e3e6;background:#fff;border-radius:1px"></div>
<div class="t" style="left:1655px;top:911.5px;width:68px;text-align:center;font-size:10px;color:#222">8291.129ms</div>
<div class="ab" style="left:1964.5px;top:907px;width:25px;height:18px;background:#c9c8cd"></div>
<div class="t" style="left:741px;top:881.8px;font-size:10px;line-height:11px;color:#474747;white-space:pre">OsTask_Resource (Task: Start) @
8291.129ms -&gt; (Task: Preempt) @
8360.63ms (Δ: 69.501ms)</div>
<svg class="ab" style="left:2254.5px;top:912px" width="15.4" height="22" viewBox="0 0 14 20"><path d="M1 1 L1 15 L4.5 11.5 L7 17.5 L9.2 16.5 L6.8 10.8 L11.5 10.8 Z" fill="#fff" stroke="#111" stroke-width="1"/></svg>
</body></html>
